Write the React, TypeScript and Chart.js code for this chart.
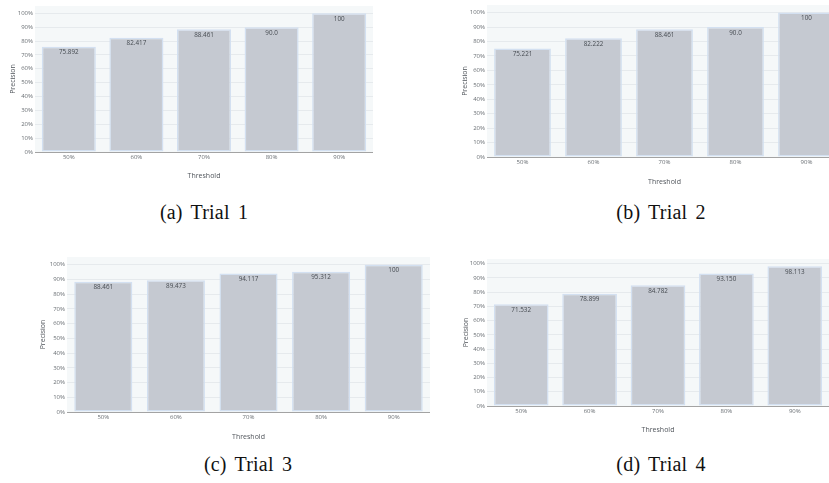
import React, { useEffect, useRef } from "react";
import { Chart, registerables } from "chart.js";

Chart.register(...registerables);

// ---------- data ----------
const categories = ["50%", "60%", "70%", "80%", "90%"];
const yTickValues = [0, 10, 20, 30, 40, 50, 60, 70, 80, 90, 100];

const trial1Values = [75.892, 82.417, 88.461, 90.0, 100];
const trial1Labels = ["75.892", "82.417", "88.461", "90.0", "100"];

const trial2Values = [75.221, 82.222, 88.461, 90.0, 100];
const trial2Labels = ["75.221", "82.222", "88.461", "90.0", "100"];

const trial3Values = [88.461, 89.473, 94.117, 95.312, 100];
const trial3Labels = ["88.461", "89.473", "94.117", "95.312", "100"];

const trial4Values = [71.532, 78.899, 84.782, 93.15, 98.113];
const trial4Labels = ["71.532", "78.899", "84.782", "93.150", "98.113"];

const captions = ["(a) Trial 1", "(b) Trial 2", "(c) Trial 3", "(d) Trial 4"];
const xTitle = "Threshold";
const yTitle = "Precision";

// ---------- styles ----------
const FONT = "'Open Sans', 'Noto Sans', sans-serif";
const TICK_SIZE = 6;
const TITLE_SIZE = 7;
const LH = TITLE_SIZE * 1.2;

type Layout = {
  plotL: number;
  plotR: number;
  plotT: number;
  plotB: number;
  yTitleX: number;
  xTitleY: number;
};

const layouts: Layout[] = [
  { plotL: 35, plotR: 373, plotT: 6, plotB: 152, yTitleX: 13, xTitleY: 176 },
  { plotL: 487, plotR: 842, plotT: 5, plotB: 157, yTitleX: 465, xTitleY: 182 },
  { plotL: 67, plotR: 430, plotT: 257, plotB: 412, yTitleX: 43, xTitleY: 437 },
  { plotL: 487, plotR: 829, plotT: 259, plotB: 406, yTitleX: 466, xTitleY: 430 },
];

const captionPos = [
  { cx: 204, top: 200 },
  { cx: 661, top: 200 },
  { cx: 248, top: 452 },
  { cx: 661, top: 452 },
];

function Panel({ values, labels, layout }: { values: number[]; labels: string[]; layout: Layout }) {
  const ref = useRef<HTMLCanvasElement | null>(null);
  const yAxisW = 35;
  const canvasLeft = layout.plotL - yAxisW;
  const canvasTop = layout.plotT;
  const canvasBottom = Math.round(layout.xTitleY + 8);
  const width = layout.plotR - canvasLeft;
  const height = canvasBottom - canvasTop;
  const xAxisH = canvasBottom - layout.plotB;
  const xTitlePadB = canvasBottom - layout.xTitleY - LH / 2;
  const yTitlePadT = layout.yTitleX - canvasLeft - LH / 2;
  const ymax = Math.max(...values) / 0.95;

  useEffect(() => {
    if (!ref.current) return;
    const bgPlugin = {
      id: "plotBg",
      beforeDraw(chart: any) {
        const { ctx, chartArea } = chart;
        ctx.save();
        ctx.fillStyle = "#f5f8f9";
        ctx.fillRect(chartArea.left, chartArea.top, chartArea.right - chartArea.left, chartArea.bottom - chartArea.top);
        ctx.restore();
      },
    };
    const labelPlugin = {
      id: "valueLabels",
      afterDatasetsDraw(chart: any) {
        const { ctx } = chart;
        const meta = chart.getDatasetMeta(0);
        ctx.save();
        ctx.font = `${6.3}px ${FONT}`;
        ctx.fillStyle = "#464b51";
        ctx.textAlign = "center";
        ctx.textBaseline = "middle";
        meta.data.forEach((bar: any, i: number) => {
          ctx.fillText(labels[i], bar.x, bar.y + 5.7);
        });
        ctx.restore();
      },
    };
    const chart = new Chart(ref.current, {
      type: "bar",
      data: {
        labels: categories,
        datasets: [
          {
            data: values,
            backgroundColor: "#c5c9d1",
            borderColor: "#d3e0f1",
            borderWidth: 1.5,
            borderSkipped: false,
            barPercentage: 0.8,
            categoryPercentage: 1,
          } as any,
        ],
      },
      options: {
        responsive: false,
        animation: false,
        devicePixelRatio: 1,
        layout: { padding: 0 },
        events: [],
        plugins: {
          legend: { display: false },
          tooltip: { enabled: false },
        },
        scales: {
          x: {
            offset: true,
            grid: { display: false, drawTicks: false },
            border: { display: true, color: "#a3a3a3", width: 1 },
            ticks: {
              font: { family: FONT, size: TICK_SIZE },
              color: "#6a6f74",
              padding: 1.5,
              maxRotation: 0,
              autoSkip: false,
            },
            title: {
              display: true,
              text: xTitle,
              font: { family: FONT, size: TITLE_SIZE },
              color: "#50555b",
              padding: { top: 0, bottom: xTitlePadB },
            },
            afterFit: (s: any) => {
              s.height = xAxisH;
              s.paddingLeft = 0;
              s.paddingRight = 0;
              s.paddingTop = 0;
              s.paddingBottom = 0;
            },
          },
          y: {
            min: 0,
            max: ymax,
            grid: { color: "#e6eaed", lineWidth: 1, drawTicks: false },
            border: { display: false },
            ticks: {
              stepSize: 10,
              font: { family: FONT, size: TICK_SIZE },
              color: "#6a6f74",
              padding: 2,
              callback: (v: any) => `${Math.round(Number(v))}%`,
            },
            afterBuildTicks: (s: any) => {
              s.ticks = yTickValues.map((v) => ({ value: v }));
            },
            title: {
              display: true,
              text: yTitle,
              font: { family: FONT, size: TITLE_SIZE },
              color: "#50555b",
              padding: { top: yTitlePadT, bottom: 0 },
            },
            afterFit: (s: any) => {
              s.width = yAxisW;
              s.paddingLeft = 0;
              s.paddingRight = 0;
              s.paddingTop = 0;
              s.paddingBottom = 0;
            },
          },
        },
      } as any,
      plugins: [bgPlugin, labelPlugin],
    });
    return () => chart.destroy();
  }, []);

  return (
    <canvas
      ref={ref}
      width={width}
      height={height}
      style={{ position: "absolute", left: canvasLeft, top: canvasTop, width, height }}
    />
  );
}

export default function App() {
  useEffect(() => {
    document.body.style.margin = "0";
  }, []);
  const allValues = [trial1Values, trial2Values, trial3Values, trial4Values];
  const allLabels = [trial1Labels, trial2Labels, trial3Labels, trial4Labels];
  return (
    <div
      style={{
        position: "fixed",
        left: 0,
        top: 0,
        width: 829,
        height: 483,
        overflow: "hidden",
        background: "#ffffff",
      }}
    >
      {layouts.map((l, i) => (
        <Panel key={i} values={allValues[i]} labels={allLabels[i]} layout={l} />
      ))}
      {captions.map((c, i) => (
        <div
          key={"c" + i}
          style={{
            position: "absolute",
            left: captionPos[i].cx - 100,
            top: captionPos[i].top,
            width: 200,
            textAlign: "center",
            fontFamily: "'Liberation Serif', 'Times New Roman', serif",
            fontSize: 20,
            lineHeight: "24px",
            wordSpacing: 3,
            letterSpacing: 0.2,
            color: "#111",
            whiteSpace: "nowrap",
          }}
        >
          {c}
        </div>
      ))}
    </div>
  );
}
